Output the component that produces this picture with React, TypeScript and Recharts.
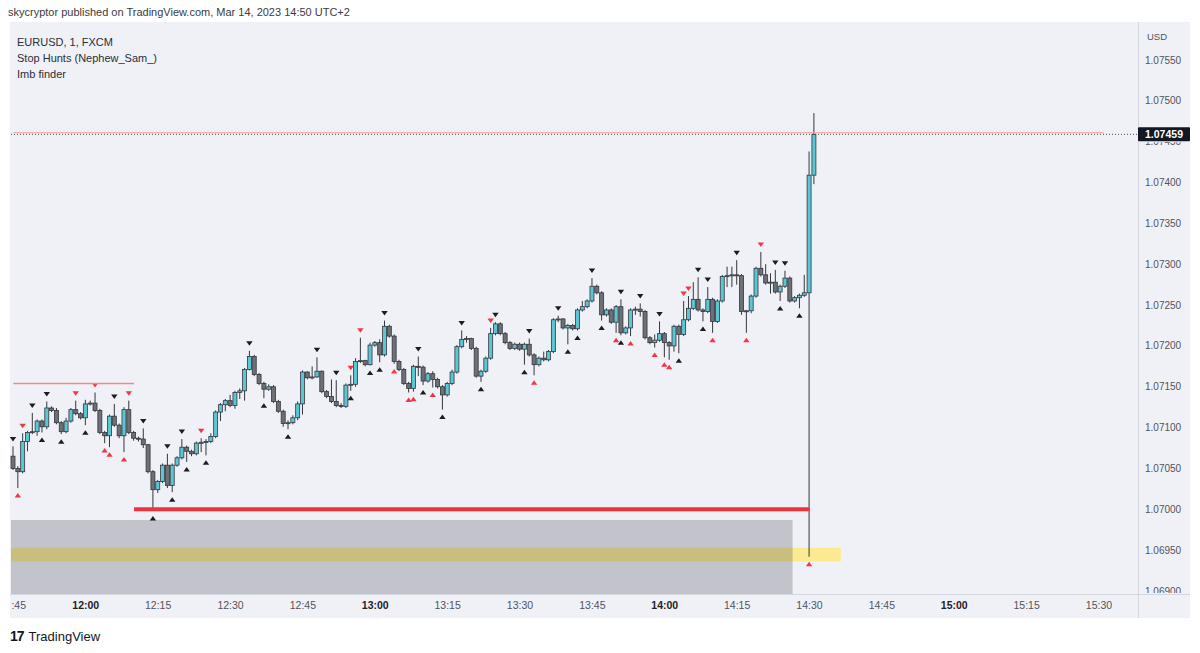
import React from 'react';
import { ComposedChart, Bar, XAxis, YAxis, ReferenceLine, ReferenceArea } from 'recharts';

// EURUSD 1-minute candles, 11:45 .. 14:31 (index = minutes since 11:45)
const open = [
  1.07065, 1.0705, 1.07046, 1.07083, 1.07094, 1.07095, 1.07108, 1.07101, 1.07124, 1.07121,
  1.07106, 1.07095, 1.07108, 1.07122, 1.07117, 1.07112, 1.07129, 1.0713, 1.07121, 1.07094,
  1.0709, 1.07114, 1.07103, 1.0709, 1.07122, 1.07094, 1.07087, 1.07086, 1.07079, 1.07046,
  1.07024, 1.07034, 1.07054, 1.07029, 1.07054, 1.07063, 1.07076, 1.07071, 1.07068, 1.07081,
  1.07082, 1.07083, 1.07089, 1.07119, 1.07128, 1.07133, 1.07127, 1.07143, 1.07145, 1.07171,
  1.07187, 1.07165, 1.07154, 1.07147, 1.0715, 1.07132, 1.0712, 1.07105, 1.07106, 1.07112,
  1.07129, 1.07168, 1.07161, 1.07162, 1.07169, 1.07144, 1.07138, 1.07132, 1.07127, 1.07126,
  1.07152, 1.07153, 1.07181, 1.07182, 1.07177, 1.07201, 1.07204, 1.07189, 1.07224, 1.07212,
  1.07181, 1.07171, 1.07154, 1.07148, 1.07175, 1.07174, 1.07157, 1.07166, 1.07159, 1.0715,
  1.0714, 1.07154, 1.07168, 1.07199, 1.07208, 1.07209, 1.07197, 1.07163, 1.07169, 1.07185,
  1.07215, 1.07227, 1.07215, 1.07204, 1.07197, 1.07202, 1.07196, 1.07202, 1.07189, 1.07177,
  1.07185, 1.07183, 1.07193, 1.07232, 1.07233, 1.07222, 1.07225, 1.07221, 1.07244, 1.07248,
  1.07255, 1.07273, 1.07265, 1.07238, 1.07244, 1.07229, 1.07248, 1.07216, 1.07222, 1.07244,
  1.07245, 1.07242, 1.0721, 1.07204, 1.07207, 1.07215, 1.07204, 1.072, 1.07224, 1.07214,
  1.07232, 1.07246, 1.07257, 1.07244, 1.07242, 1.07257, 1.0723, 1.07255, 1.07285, 1.07286,
  1.07287, 1.07286, 1.07242, 1.07243, 1.07261, 1.07295, 1.07287, 1.07277, 1.07278, 1.07266,
  1.07273, 1.07283, 1.07255, 1.07259, 1.07262, 1.07265, 1.07409,
];
const high = [
  1.07077, 1.07053, 1.07093, 1.07096, 1.07118, 1.0711, 1.0711, 1.07132, 1.07126, 1.07124,
  1.07108, 1.07112, 1.07124, 1.07133, 1.07119, 1.07134, 1.07133, 1.07143, 1.07123, 1.07096,
  1.07116, 1.07129, 1.07105, 1.07125, 1.07133, 1.07096, 1.07089, 1.07099, 1.0708, 1.07048,
  1.07036, 1.07056, 1.07068, 1.07056, 1.07065, 1.07086, 1.07078, 1.07073, 1.07083, 1.07087,
  1.07086, 1.07093, 1.07121, 1.0713, 1.07135, 1.0714, 1.07145, 1.07148, 1.07173, 1.07194,
  1.07189, 1.07167, 1.07156, 1.07153, 1.07152, 1.07134, 1.07122, 1.07109, 1.07115, 1.07132,
  1.0717, 1.07169, 1.07175, 1.07186, 1.0717, 1.07146, 1.07159, 1.07158, 1.0713, 1.07154,
  1.07164, 1.07185, 1.0721, 1.07183, 1.07204, 1.07206, 1.07208, 1.07231, 1.07226, 1.07214,
  1.07183, 1.07173, 1.07156, 1.07177, 1.07187, 1.07176, 1.07168, 1.07169, 1.07161, 1.07152,
  1.07156, 1.07171, 1.07201, 1.07219, 1.07212, 1.0721, 1.07199, 1.07171, 1.07187, 1.07222,
  1.07229, 1.07229, 1.07217, 1.07206, 1.07204, 1.07204, 1.07204, 1.07209, 1.07191, 1.07187,
  1.07193, 1.07195, 1.07234, 1.07237, 1.07234, 1.07227, 1.07227, 1.07246, 1.07255, 1.07257,
  1.07283, 1.07275, 1.07267, 1.07246, 1.07246, 1.0725, 1.07257, 1.07224, 1.07246, 1.07248,
  1.07252, 1.07244, 1.07212, 1.07214, 1.0723, 1.07217, 1.07206, 1.07226, 1.07226, 1.07255,
  1.07261, 1.07278, 1.07284, 1.07246, 1.07272, 1.07259, 1.07257, 1.07287, 1.07297, 1.07297,
  1.07305, 1.07288, 1.07244, 1.07263, 1.07297, 1.07315, 1.073, 1.07289, 1.07293, 1.07275,
  1.07292, 1.07285, 1.07261, 1.07264, 1.07287, 1.07438, 1.07485,
];
const low = [
  1.07048, 1.07026, 1.07044, 1.07071, 1.07092, 1.0709, 1.07094, 1.07098, 1.07119, 1.07104,
  1.07092, 1.07093, 1.07106, 1.07115, 1.0711, 1.07103, 1.07127, 1.07119, 1.07092, 1.07081,
  1.07076, 1.07101, 1.07087, 1.0707, 1.07092, 1.07084, 1.07083, 1.07075, 1.07044, 1.06998,
  1.0702, 1.07032, 1.07026, 1.07021, 1.07052, 1.07061, 1.07058, 1.07065, 1.07066, 1.0707,
  1.07066, 1.07081, 1.07087, 1.07108, 1.0712, 1.07125, 1.07123, 1.07135, 1.07133, 1.0717,
  1.07163, 1.07152, 1.07136, 1.07145, 1.0713, 1.07118, 1.07101, 1.07098, 1.07104, 1.07109,
  1.07116, 1.07159, 1.07159, 1.07161, 1.07142, 1.07136, 1.0713, 1.07125, 1.07124, 1.07124,
  1.07145, 1.0715, 1.07179, 1.07175, 1.07176, 1.07199, 1.0718, 1.07187, 1.0721, 1.07178,
  1.07169, 1.07152, 1.07143, 1.07144, 1.07163, 1.07152, 1.07155, 1.07149, 1.07148, 1.07122,
  1.07138, 1.07152, 1.07166, 1.07197, 1.07204, 1.07195, 1.07161, 1.07156, 1.07167, 1.07183,
  1.07213, 1.07213, 1.07202, 1.07195, 1.07195, 1.07194, 1.07177, 1.07187, 1.07164, 1.07175,
  1.07181, 1.07181, 1.07191, 1.07229, 1.0722, 1.07202, 1.07219, 1.07219, 1.07242, 1.07246,
  1.07253, 1.07263, 1.07231, 1.07236, 1.07227, 1.07216, 1.07213, 1.07214, 1.07212, 1.07238,
  1.07236, 1.07208, 1.07202, 1.07198, 1.07205, 1.07186, 1.07183, 1.07193, 1.07191, 1.07212,
  1.0723, 1.07244, 1.07242, 1.0723, 1.0724, 1.07216, 1.07228, 1.07253, 1.07272, 1.07272,
  1.07275, 1.07238, 1.07216, 1.0724, 1.07259, 1.07285, 1.07275, 1.07264, 1.07264, 1.07255,
  1.07271, 1.07253, 1.07253, 1.07246, 1.0726, 1.06942, 1.07398,
];
const close = [
  1.0705, 1.07046, 1.07083, 1.07094, 1.07095, 1.07108, 1.07101, 1.07124, 1.07121, 1.07106,
  1.07095, 1.07108, 1.07122, 1.07117, 1.07112, 1.07129, 1.0713, 1.07121, 1.07094, 1.0709,
  1.07114, 1.07103, 1.0709, 1.07122, 1.07094, 1.07087, 1.07086, 1.07079, 1.07046, 1.07024,
  1.07034, 1.07054, 1.07029, 1.07054, 1.07063, 1.07076, 1.07071, 1.07068, 1.07081, 1.07082,
  1.07083, 1.07089, 1.07119, 1.07128, 1.07133, 1.07127, 1.07143, 1.07145, 1.07171, 1.07187,
  1.07165, 1.07154, 1.07147, 1.0715, 1.07132, 1.0712, 1.07105, 1.07106, 1.07112, 1.07129,
  1.07168, 1.07161, 1.07162, 1.07169, 1.07144, 1.07138, 1.07132, 1.07127, 1.07126, 1.07152,
  1.07153, 1.07181, 1.07182, 1.07177, 1.07201, 1.07204, 1.07189, 1.07224, 1.07212, 1.07181,
  1.07171, 1.07154, 1.07148, 1.07175, 1.07174, 1.07157, 1.07166, 1.07159, 1.0715, 1.0714,
  1.07154, 1.07168, 1.07199, 1.07208, 1.07209, 1.07197, 1.07163, 1.07169, 1.07185, 1.07215,
  1.07227, 1.07215, 1.07204, 1.07197, 1.07202, 1.07196, 1.07202, 1.07189, 1.07177, 1.07185,
  1.07183, 1.07193, 1.07232, 1.07233, 1.07222, 1.07225, 1.07221, 1.07244, 1.07248, 1.07255,
  1.07273, 1.07265, 1.07238, 1.07244, 1.07229, 1.07248, 1.07216, 1.07222, 1.07244, 1.07245,
  1.07242, 1.0721, 1.07204, 1.07207, 1.07215, 1.07204, 1.072, 1.07224, 1.07214, 1.07232,
  1.07246, 1.07257, 1.07244, 1.07242, 1.07257, 1.0723, 1.07255, 1.07285, 1.07286, 1.07287,
  1.07286, 1.07242, 1.07243, 1.07261, 1.07295, 1.07287, 1.07277, 1.07278, 1.07266, 1.07273,
  1.07283, 1.07255, 1.07259, 1.07262, 1.07265, 1.07409, 1.07459,
];

// Stop-hunt markers (candle indices)
const downBlack = [0, 4, 7, 21, 27, 32, 35, 49, 63, 67, 77, 84, 93, 100, 107, 113, 120, 126, 130, 134, 142, 144, 150, 158, 160];
const downRed = [2, 13, 17, 24, 39, 70, 72, 99, 139, 140, 155];
const upBlack = [6, 10, 15, 29, 33, 36, 40, 52, 57, 70, 74, 76, 85, 89, 97, 106, 115, 117, 122, 126, 138, 143, 159, 163];
const upRed = [1, 19, 20, 23, 79, 82, 83, 87, 108, 125, 128, 133, 135, 136, 145, 152, 165];

const SLOTS = 234;
const timeTicks = [0, 15, 30, 45, 60, 75, 90, 105, 120, 135, 150, 165, 180, 195, 210, 225];
const timeLabels = [':45', '12:00', '12:15', '12:30', '12:45', '13:00', '13:15', '13:30', '13:45', '14:00', '14:15', '14:30', '14:45', '15:00', '15:15', '15:30'];
const priceTicks = [1.069, 1.0695, 1.07, 1.0705, 1.071, 1.0715, 1.072, 1.0725, 1.073, 1.0735, 1.074, 1.0745, 1.075, 1.0755];
const priceDomain = [1.068963, 1.075965];

const lastPrice = 1.07459;
const highLevel = 1.07461;
const stopLevel = 1.07;
const prevHigh = 1.07154;
const boxTop = 1.06987;
const imbTop = 1.06953;
const imbBottom = 1.06936;

const data = Array.from({ length: SLOTS }, (_, i) =>
  i < open.length
    ? {
        i,
        o: open[i],
        h: high[i],
        l: low[i],
        c: close[i],
        top: downRed.includes(i) ? 'red' : downBlack.includes(i) ? 'black' : null,
        bot: upRed.includes(i) ? 'red' : upBlack.includes(i) ? 'black' : null,
      }
    : { i }
);

const UP = '#5cc6d2';
const DOWN = '#6d7075';
const EDGE = '#33363d';
const RED = '#f23645';
const BLACK = '#1b1c20';
const FONT = "'Liberation Sans', Arial, sans-serif";

const Candle = (props: any) => {
  const { x, y, width, height, payload } = props;
  if (!payload || payload.h == null || !isFinite(y) || !isFinite(height)) return null;
  const top = Math.min(y, y + height);
  const h = Math.abs(height);
  const range = payload.h - payload.l;
  const k = range > 0 ? h / range : 0;
  const yOf = (p: number) => top + (payload.h - p) * k;
  const up = payload.c >= payload.o;
  const bt = yOf(Math.max(payload.o, payload.c));
  const bb = yOf(Math.min(payload.o, payload.c));
  const bh = Math.max(1, bb - bt);
  const cx = x + width / 2;
  const tw = 3.2;
  const th = 4.5;
  const off = 5;
  return (
    <g>
      <line x1={cx} x2={cx} y1={top} y2={top + h} stroke={EDGE} strokeWidth={1} />
      <rect x={x} y={bt} width={width} height={bh} fill={up ? UP : DOWN} stroke={EDGE} strokeWidth={0.8} />
      {payload.top && (
        <polygon
          points={`${cx - tw},${top - off - th} ${cx + tw},${top - off - th} ${cx},${top - off}`}
          fill={payload.top === 'red' ? RED : BLACK}
        />
      )}
      {payload.bot && (
        <polygon
          points={`${cx - tw},${top + h + off + th} ${cx + tw},${top + h + off + th} ${cx},${top + h + off}`}
          fill={payload.bot === 'red' ? RED : BLACK}
        />
      )}
    </g>
  );
};

const TimeTick = (props: any) => {
  const { x, y, payload } = props;
  const idx = timeTicks.indexOf(payload.value);
  const label = timeLabels[idx];
  if (!label) return null;
  const bold = label.endsWith(':00');
  const first = idx === 0;
  return (
    <text
      x={first ? x - 2 : x}
      y={y}
      dy="0.71em"
      textAnchor={first ? 'start' : 'middle'}
      fontSize={10.5}
      fontFamily={FONT}
      fontWeight={bold ? 700 : 400}
      fill={bold ? '#1e2026' : '#50535b'}
    >
      {label}
    </text>
  );
};

const PriceTick = (props: any) => {
  const { x, y, payload, index } = props;
  const v = Number(payload.value);
  const label = v.toFixed(5);
  // the lowest label is cut by the time-axis border; the one under the last-price tag is mostly hidden
  let clip: { top: number; bottom: number } | null = null;
  if (index === 0) clip = { top: y - 8, bottom: y + 2 };
  if (Math.abs(v - 1.0745) < 1e-9) clip = { top: y + 0.5, bottom: y + 8 };
  const id = `ptclip-${index}`;
  return (
    <g>
      {clip && (
        <defs>
          <clipPath id={id}>
            <rect x={x - 2} y={clip.top} width={50} height={clip.bottom - clip.top} />
          </clipPath>
        </defs>
      )}
      <text
        x={x}
        y={y}
        dy="0.355em"
        textAnchor="start"
        fontSize={10}
        fontFamily={FONT}
        fill="#50535b"
        clipPath={clip ? `url(#${id})` : undefined}
      >
        {label}
      </text>
    </g>
  );
};

const PriceTag = (props: any) => {
  const vb = props.viewBox || {};
  const right = (vb.x || 0) + (vb.width || 0);
  const y = vb.y || 0;
  return (
    <g>
      <rect x={right - 2} y={y - 7} width={52} height={14} rx={1} fill="#131722" />
      <text x={right + 24} y={y} dy="0.36em" textAnchor="middle" fontSize={10.5} fontWeight={700} fontFamily={FONT} fill="#ffffff">
        {lastPrice.toFixed(5)}
      </text>
    </g>
  );
};

export default function App() {
  return (
    <div style={{ position: 'absolute', left: 0, top: 0, width: 1200, height: 653, background: '#ffffff', overflow: 'hidden', fontFamily: FONT }}>
      <div style={{ position: 'absolute', left: 10, top: 22, width: 1180, height: 596, background: '#f0f1f7' }} />
      <div style={{ position: 'absolute', left: 1138, top: 22, width: 1, height: 596, background: '#d5d7df' }} />
      <div style={{ position: 'absolute', left: 10, top: 594, width: 1180, height: 1, background: '#d5d7df' }} />
      <div style={{ position: 'absolute', left: 0, top: 0 }}>
        <ComposedChart width={1200} height={653} data={data} margin={{ top: 22, right: 10, bottom: 35, left: 11 }} barCategoryGap={0}>
          <XAxis dataKey="i" type="category" ticks={timeTicks} interval={0} tick={<TimeTick />} tickLine={false} axisLine={false} tickSize={0} tickMargin={8} height={24} />
          <YAxis orientation="right" type="number" domain={priceDomain} ticks={priceTicks} interval={0} allowDataOverflow tick={<PriceTick />} tickLine={false} axisLine={false} tickSize={0} tickMargin={5} width={50} />
          <ReferenceArea x1={0} x2={171} y1={imbBottom} y2={imbTop} fill="#fbe98b" fillOpacity={0.95} stroke="none" ifOverflow="hidden" />
          <ReferenceArea x1={0} x2={161} y1={priceDomain[0]} y2={boxTop} fill="#3d404e" fillOpacity={0.26} stroke="none" ifOverflow="hidden" />
          <ReferenceLine segment={[{ x: 0, y: prevHigh }, { x: 25, y: prevHigh }]} stroke="#f08a8a" strokeWidth={1.5} />
          <ReferenceLine segment={[{ x: 0, y: highLevel }, { x: 226, y: highLevel }]} stroke="#f3a19b" strokeWidth={1} />
          <Bar dataKey={(d: any) => (d.h == null ? null : [d.l, d.h])} shape={<Candle />} barSize={4} isAnimationActive={false} />
          <ReferenceLine segment={[{ x: 25, y: stopLevel }, { x: 165, y: stopLevel }]} stroke="#f0323c" strokeWidth={4} />
          <ReferenceLine y={lastPrice} stroke="#4a4c55" strokeWidth={1} strokeDasharray="1 2" label={<PriceTag />} />
        </ComposedChart>
      </div>
      <div style={{ position: 'absolute', left: 8, top: 4, fontSize: 11, lineHeight: '16px', color: '#3a3b40', whiteSpace: 'nowrap' }}>
        skycryptor published on TradingView.com, Mar 14, 2023 14:50 UTC+2
      </div>
      <div style={{ position: 'absolute', left: 17, top: 34, fontSize: 11, lineHeight: '16px', color: '#2a2e39', whiteSpace: 'nowrap' }}>
        <div>EURUSD, 1, FXCM</div>
        <div>Stop Hunts (Nephew_Sam_)</div>
        <div>Imb finder</div>
      </div>
      <div style={{ position: 'absolute', left: 1147, top: 31, fontSize: 9.5, lineHeight: '12px', color: '#50535b' }}>USD</div>
      <div style={{ position: 'absolute', left: 10, top: 628, fontSize: 13, lineHeight: '16px', color: '#131722', whiteSpace: 'nowrap' }}>
        <span style={{ fontWeight: 900, fontSize: 14, letterSpacing: -1, marginRight: 5 }}>17</span>
        <span>TradingView</span>
      </div>
    </div>
  );
}
